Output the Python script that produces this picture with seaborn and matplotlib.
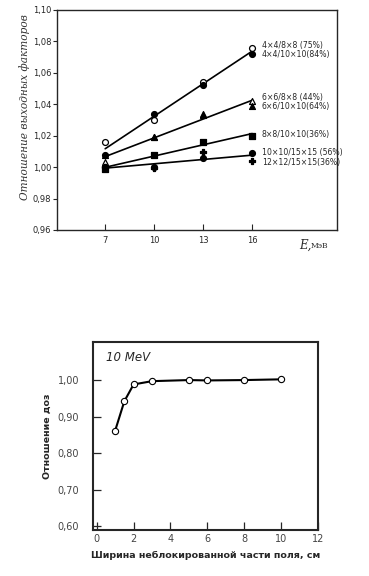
import pandas as pd
import matplotlib
matplotlib.use("Agg")
import matplotlib.pyplot as plt
import seaborn as sns

# top chart: output factor ratio vs energy
energy = [7, 10, 13, 16]
labels = ["4×4/8×8 (75%)", "4×4/10×10(84%)", "6×6/8×8 (44%)", "6×6/10×10(64%)",
          "8×8/10×10(36%)", "10×10/15×15 (56%)", "12×12/15×15(36%)"]
r_4_8 = [1.016, 1.030, 1.054, 1.076]
r_4_10 = [1.008, 1.034, 1.052, 1.072]
r_6_8 = [1.003, 1.019, 1.033, 1.042]
r_6_10 = [1.008, 1.019, 1.034, 1.039]
r_8_10 = [0.999, 1.0075, 1.016, 1.020]
r_10_15 = [1.000, 1.000, 1.006, 1.009]
r_12_15 = [1.000, 0.9995, 1.0095, 1.004]
groups = [1, 1, 2, 2, 3, 4, 4]   # series sharing one fitted line
top_yticks = [0.96, 0.98, 1.00, 1.02, 1.04, 1.06, 1.08, 1.10]
top_yticklabels = ["0,96", "0,98", "1,00", "1,02", "1,04", "1,06", "1,08", "1,10"]

# bottom chart: dose ratio vs unblocked width
width_cm = [1, 1.5, 2, 3, 5, 6, 8, 10]
dose_ratio = [0.862, 0.943, 0.989, 0.998, 1.001, 1.000, 1.001, 1.003]
bot_xticks = [0, 2, 4, 6, 8, 10, 12]
bot_yticks = [0.60, 0.70, 0.80, 0.90, 1.00]
bot_yticklabels = ["0,60", "0,70", "0,80", "0,90", "1,00"]

# where the series names sit (layout only)
label_y = [1.0775, 1.0715, 1.0445, 1.0385, 1.0207, 1.0095, 1.0028]

sns.set_style("ticks")
plt.rcParams["font.family"] = ["DejaVu Sans"]

series = [r_4_8, r_4_10, r_6_8, r_6_10, r_8_10, r_10_15, r_12_15]
rows = []
for lab, g, vals in zip(labels, groups, series):
    for e, v in zip(energy, vals):
        rows.append({"label": lab, "group": g, "E": e, "ratio": v})
df = pd.DataFrame(rows)

marker_style = {
    labels[0]: ("o", "white"), labels[1]: ("o", "black"),
    labels[2]: ("^", "white"), labels[3]: ("^", "black"),
    labels[4]: ("s", "black"), labels[5]: ("o", "black"),
    labels[6]: ("P", "black"),
}

fig = plt.figure(figsize=(3.69, 5.76), dpi=100)

ax = fig.add_axes([0.1545, 0.6007, 0.759, 0.382])
for g in sorted(set(groups)):
    sns.regplot(data=df[df["group"] == g], x="E", y="ratio", ax=ax, scatter=False,
                ci=None, truncate=True, color="black", line_kws={"lw": 1.2})
for lab, ly in zip(labels, label_y):
    sub = df[df["label"] == lab]
    m, fc = marker_style[lab]
    sns.scatterplot(data=sub, x="E", y="ratio", ax=ax, marker=m, color=fc,
                    edgecolor="black", linewidth=0.9, s=18, zorder=3, legend=False)
    ax.text(16.6, ly, lab, fontsize=5.6, va="center", ha="left")

ax.set_xlim(4.05, 21.2)
ax.set_ylim(0.96, 1.10)
ax.set_xticks(energy)
ax.set_xticklabels([str(e) for e in energy])
ax.set_yticks(top_yticks)
ax.set_yticklabels(top_yticklabels)
ax.tick_params(axis="x", direction="in", length=4, labelsize=6, pad=4)
ax.tick_params(axis="y", direction="out", length=3, labelsize=6, pad=1)
ax.set_xlabel("")
ax.set_ylabel("Отношение выходных факторов", fontsize=7.6, style="italic",
              family="DejaVu Serif", color="#333333")
ax.yaxis.set_label_coords(-0.095, 0.56)
ax.text(0.865, -0.07, "E,", transform=ax.transAxes, fontsize=8.5, style="italic",
        family="DejaVu Serif", va="center")
ax.text(0.905, -0.072, "МэВ", transform=ax.transAxes, fontsize=5.5,
        family="DejaVu Serif", va="center")
for sp in ax.spines.values():
    sp.set_linewidth(1.0)
    sp.set_visible(True)

ax2 = fig.add_axes([0.252, 0.080, 0.610, 0.326])
sns.lineplot(x=width_cm, y=dose_ratio, ax=ax2, color="black", lw=1.5, marker="o",
             markersize=4.5, markerfacecolor="white", markeredgecolor="black",
             markeredgewidth=0.8)
ax2.set_xlim(-0.2, 12.0)
ax2.set_ylim(0.59, 1.105)
ax2.set_xticks(bot_xticks)
ax2.set_yticks(bot_yticks)
ax2.set_yticklabels(bot_yticklabels)
ax2.tick_params(axis="both", direction="in", length=6, width=0.9, labelsize=7,
                labelcolor="#444444")
ax2.tick_params(axis="y", pad=10)
ax2.tick_params(axis="x", pad=3)
ax2.set_xlabel("Ширина неблокированной части поля, см", fontsize=6.8,
               fontweight="bold", labelpad=5)
ax2.set_ylabel("Отношение доз", fontsize=6.8, fontweight="bold", labelpad=4)
ax2.text(0.06, 0.92, "10 MeV", transform=ax2.transAxes, fontsize=8.5,
         style="italic", va="center", ha="left")
for sp in ax2.spines.values():
    sp.set_linewidth(1.5)
    sp.set_visible(True)

fig.savefig("out.png", dpi=100)
